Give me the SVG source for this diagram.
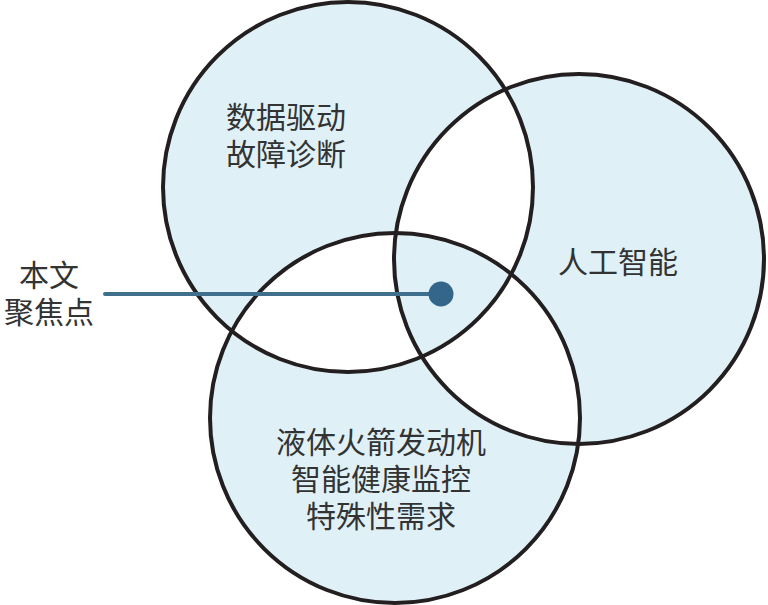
<svg xmlns="http://www.w3.org/2000/svg" width="768" height="605" viewBox="0 0 768 605">
<style>
.ring{fill:none;stroke:#231f20;stroke-width:4}
.lbl{font-family:"Noto Sans CJK SC","Noto Sans CJK TC",sans-serif;font-size:30px;fill:#333333;text-anchor:middle}
</style>
<rect width="768" height="605" fill="#ffffff"/>
<path id="venn-fill" fill="#dff1f7" fill-rule="evenodd" d="M163,187a185,185 0 1,0 370,0a185,185 0 1,0 -370,0Z M394,259a185,185 0 1,0 370,0a185,185 0 1,0 -370,0Z M210,418a185,185 0 1,0 370,0a185,185 0 1,0 -370,0Z"/>
<g id="node-data">
<circle class="ring" cx="348" cy="187" r="185"/>
<text class="lbl" x="286" y="128">数据驱动<tspan x="286" dy="37">故障诊断</tspan></text>
</g>
<g id="node-ai">
<circle class="ring" cx="579" cy="259" r="185"/>
<text class="lbl" x="618" y="273">人工智能</text>
</g>
<g id="node-engine">
<circle class="ring" cx="395" cy="418" r="185"/>
<text class="lbl" x="381" y="453">液体火箭发动机<tspan x="381" dy="37">智能健康监控</tspan><tspan x="381" dy="37">特殊性需求</tspan></text>
</g>
<g id="connectors">
<line x1="105" y1="294" x2="441" y2="294" stroke="#3f6f8d" stroke-width="4" stroke-linecap="round"/>
<circle cx="441" cy="294" r="12.5" fill="#33668a"/>
</g>
<g id="node-focus">
<text class="lbl" x="49" y="286">本文<tspan x="49" dy="37">聚焦点</tspan></text>
</g>
</svg>
